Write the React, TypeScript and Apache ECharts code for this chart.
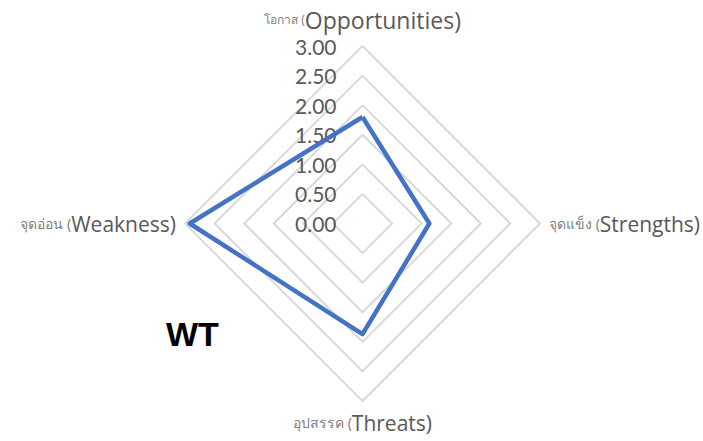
import React, { useEffect, useRef } from "react";
import * as echarts from "echarts";

const indicatorThai = ["โอกาส (", "จุดอ่อน (", "อุปสรรค (", "จุดแข็ง ("];
const indicatorEng = ["Opportunities)", "Weakness)", "Threats)", "Strengths)"];
const values = [1.8, 2.92, 1.87, 1.13];
const maxValue = 3;
const tickStep = 0.5;
const cornerLabel = "WT";

export default function App() {
  const ref = useRef<HTMLDivElement>(null);
  useEffect(() => {
    if (!ref.current) return;
    const chart = echarts.init(ref.current, null, { renderer: "svg" });
    const fontFamily = "Lato, 'Noto Sans', sans-serif";
    const nameFont = "'Open Sans', 'Noto Sans', sans-serif";
    const thaiFont = "'Noto Sans', sans-serif";
    const option = {
      animation: false,
      backgroundColor: "#ffffff",
      textStyle: { fontFamily },
      grid: { left: 362.5, top: 46, width: 1, height: 177.5 },
      xAxis: { type: "value", show: false, min: 0, max: 1 },
      yAxis: {
        type: "value",
        min: 0,
        max: maxValue,
        interval: tickStep,
        axisLine: { show: false },
        axisTick: { show: false },
        splitLine: { show: false },
        axisLabel: {
          margin: 26,
          fontSize: 21,
          color: "#595959",
          fontFamily,
          formatter: (v: number) => v.toFixed(2),
        },
      },
      radar: {
        center: [362.5, 223.5],
        radius: 177.5,
        startAngle: 90,
        splitNumber: 6,
        shape: "polygon",
        nameGap: 9,
        indicator: indicatorEng.map((e, i) => ({ name: String(i), max: maxValue, min: 0 })),
        axisName: {
          formatter: (name: string) => {
            const i = Number(name);
            const tag = i === 0 ? "top" : i === 2 ? "bot" : "mid";
            return `{${tag}T|${indicatorThai[i]}}{${tag}E|${indicatorEng[i]}}`;
          },
          rich: {
            topT: { fontSize: 12, color: "#7f7f7f", fontFamily: thaiFont, padding: [0, 0, 6, 0] },
            topE: { fontSize: 23, color: "#595959", fontFamily: nameFont, padding: [0, 0, 6, 0] },
            midT: { fontSize: 14, color: "#7f7f7f", fontFamily: thaiFont },
            midE: { fontSize: 21, color: "#595959", fontFamily: nameFont },
            botT: { fontSize: 14, color: "#7f7f7f", fontFamily: thaiFont, padding: [2, 0, 0, 0] },
            botE: { fontSize: 21, color: "#595959", fontFamily: nameFont, padding: [2, 0, 0, 0] },
          },
        },
        axisLine: { show: false },
        axisTick: { show: false },
        axisLabel: { show: false },
        splitArea: { show: false },
        splitLine: { lineStyle: { color: "#d9d9d9", width: 2 } },
      },
      graphic: [
        {
          type: "text",
          left: 166,
          top: 317,
          style: {
            text: cornerLabel,
            font: "bold 34px 'Liberation Sans', Arial, sans-serif",
            fill: "#000000",
          },
        },
      ],
      series: [
        {
          type: "radar",
          symbol: "none",
          lineStyle: { color: "#4472C4", width: 4.5 },
          data: [{ value: values }],
        },
      ],
    };
    chart.setOption(option as any);
    return () => chart.dispose();
  }, []);
  return (
    <div
      ref={ref}
      style={{ position: "fixed", left: 0, top: 0, width: 703, height: 441 }}
    />
  );
}
